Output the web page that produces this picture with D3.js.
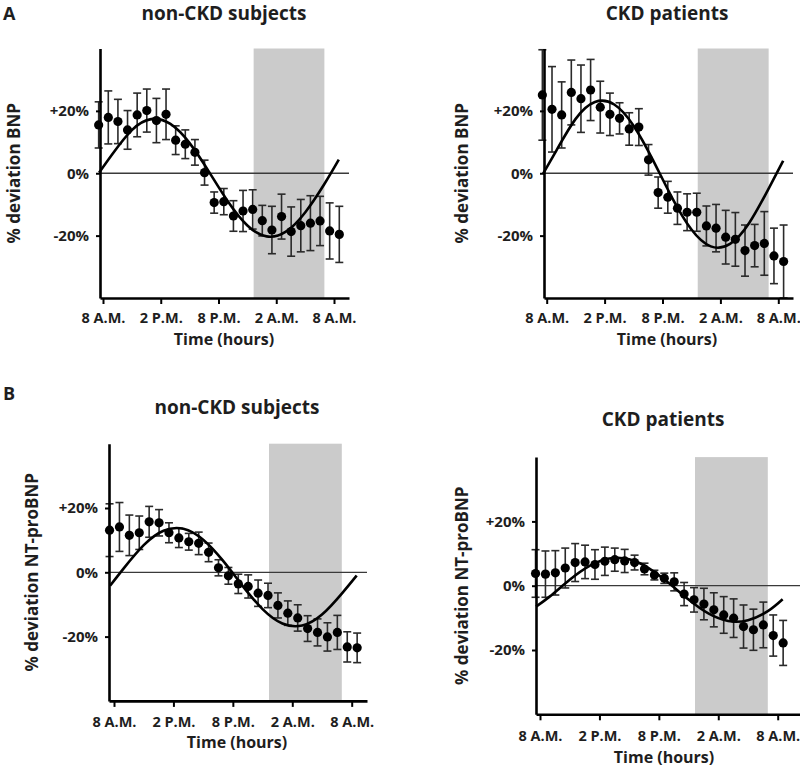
<!DOCTYPE html>
<html><head><meta charset="utf-8">
<script src="https://cdn.jsdelivr.net/npm/d3@7"></script>
<style>
body{margin:0;background:#fff}
svg{display:block}
text{font-family:"Open Sans","DejaVu Sans",sans-serif;fill:#1e1e1e}
.tick text{font-family:"Open Sans",sans-serif !important;font-weight:700;fill:#1e1e1e}
</style>
</head><body>
<svg id="c" width="800" height="772"></svg>
<script>
// ---------- data ----------
const pointHours = [-0.45,0.55,1.55,2.55,3.55,4.55,5.55,6.55,7.55,8.55,9.55,10.55,11.55,12.55,13.55,14.55,15.55,16.55,17.55,18.55,19.55,20.55,21.55,22.55,23.55,24.55];
const fitHours = [-0.4,1,3,5,7,9,11,13,15,17,19,21,23,24.5];
const xTickHours = [0,6,12,18,24];
const xTickLabels = ["8 A.M.","2 P.M.","8 P.M.","2 A.M.","8 A.M."];
const yTickValues = [-20,0,20];
const yTickLabels = ["-20%","0%","+20%"];
const nightStart = 15.65, nightEnd = 23.0;

const bnpNonCkdMean = [15.5,17.9,16.6,13.9,18.7,20.1,16.9,18.9,10.6,9.3,6.7,0.2,-9.4,-9.1,-13.7,-12.1,-11.6,-15.2,-18.2,-13.9,-18.7,-16.8,-16.0,-15.3,-18.5,-19.6];
const bnpNonCkdSem  = [7.4,8.5,7.1,6.2,7.0,6.9,7.1,8.1,4.6,4.6,4.1,4.0,3.4,4.2,4.9,6.6,6.3,4.9,7.6,7.2,7.9,8.4,8.8,7.9,9.0,9.0];
const bnpNonCkdFit  = [0.2,6.24,13.84,17.35,15.81,9.66,0.53,-9.14,-16.74,-20.25,-18.72,-12.56,-3.43,4.4];

const bnpCkdMean = [25.1,20.5,18.7,25.9,23.9,26.7,21.2,18.9,17.6,14.2,14.8,4.3,-6.2,-7.7,-11.2,-12.5,-12.5,-16.9,-17.6,-20.5,-21.2,-24.8,-23.2,-22.5,-26.5,-28.3];
const bnpCkdSem  = [14.5,13.7,10.6,10.4,10.8,9.8,8.3,6.8,5.0,5.2,5.9,4.9,5.0,5.1,5.2,5.9,6.1,6.4,7.6,8.6,8.6,8.2,6.8,10.2,8.9,11.7];
const bnpCkdFit  = [-0.3,7.28,17.44,22.85,22.05,15.26,4.30,-7.88,-18.04,-23.45,-22.65,-15.86,-4.9,4.0];

const ntNonCkdMean = [13.1,14.1,11.5,12.3,15.7,15.4,12.3,10.7,9.5,9.0,6.2,1.4,-1.1,-3.6,-4.4,-6.5,-7.2,-10.3,-12.7,-14.2,-17.5,-18.7,-20.1,-18.7,-23.2,-23.5];
const ntNonCkdSem  = [8.2,7.6,6.3,5.2,4.8,4.1,3.1,3.0,2.6,3.5,2.9,2.5,2.6,3.0,3.6,4.1,3.8,3.9,3.8,4.1,4.0,4.2,4.4,5.3,4.7,4.6];
const ntNonCkdFit  = [-4.2,1.29,8.44,12.92,13.54,10.13,3.61,-4.29,-11.44,-15.92,-16.54,-13.13,-6.61,-1.0];

const ntCkdMean = [3.8,3.6,4.0,5.5,7.2,7.4,6.6,7.6,8.1,7.7,7.2,5.2,3.3,2.3,1.2,-2.6,-4.4,-5.7,-7.5,-9.1,-10.1,-12.7,-13.7,-12.2,-15.5,-17.8];
const ntCkdSem  = [7.4,7.2,6.9,6.2,5.9,5.2,4.6,4.4,3.6,3.6,2.3,1.8,1.5,1.6,2.8,3.6,3.8,4.9,5.3,5.7,6.0,6.7,6.4,7.1,6.4,7.0];
const ntCkdFit  = [-6.5,-3.32,1.82,6.14,8.48,8.21,5.41,0.82,-4.32,-8.64,-10.98,-10.71,-7.91,-4.2];

// ---------- panels ----------
const panels = [
  {letter:"A", title:"non-CKD subjects", yLabel:"% deviation BNP", mean:bnpNonCkdMean, sem:bnpNonCkdSem, fit:bnpNonCkdFit,
   L:{axisX:100, top:48.5, bottom:298, right:349, h0:103, h24:334, titleX:224, titleY:19.5, yLabX:19.5, xTitleX:224, xTitleY:345, lblOff:15, letterY:20}},
  {letter:null, title:"CKD patients", yLabel:"% deviation BNP", mean:bnpCkdMean, sem:bnpCkdSem, fit:bnpCkdFit,
   L:{axisX:544, top:48.5, bottom:298, right:793, h0:546.7, h24:778.3, titleX:667, titleY:19.5, yLabX:467.5, xTitleX:667, xTitleY:345, lblOff:15}},
  {letter:"B", title:"non-CKD subjects", yLabel:"% deviation NT-proBNP", mean:ntNonCkdMean, sem:ntNonCkdSem, fit:ntNonCkdFit,
   L:{axisX:109, top:443.7, bottom:700.9, right:367, h0:114, h24:351.7, titleX:237, titleY:413.5, yLabX:37.5, xTitleX:237, xTitleY:748, lblOff:16, letterY:400}},
  {letter:null, title:"CKD patients", yLabel:"% deviation NT-proBNP", mean:ntCkdMean, sem:ntCkdSem, fit:ntCkdFit,
   L:{axisX:536, top:457.1, bottom:714.3, right:800, h0:540, h24:777.7, titleX:663, titleY:426, yLabX:467.5, xTitleX:664, xTitleY:762.5, lblOff:16}}
];

const svg = d3.select("#c");

panels.forEach(p => {
  const L = p.L;
  const base = d3.scaleLinear().domain([0,24]).range([L.h0, L.h24]);
  const xs = d3.scaleLinear().domain([base.invert(L.axisX), base.invert(L.right)]).range([L.axisX, L.right]);
  const ys = d3.scaleLinear().domain([-40,40]).range([L.bottom, L.top]);
  const g = svg.append("g");

  // night shading
  g.append("rect")
    .attr("x", xs(nightStart)).attr("y", ys(40))
    .attr("width", xs(nightEnd) - xs(nightStart)).attr("height", ys(-40) - ys(40))
    .attr("fill", "#cbcbcb");

  // zero line
  g.append("line")
    .attr("x1", L.axisX).attr("x2", L.right)
    .attr("y1", ys(0)).attr("y2", ys(0))
    .attr("stroke", "#3a3a3a").attr("stroke-width", 1.3);

  const pts = pointHours.map((h,i) => ({h, m:p.mean[i], s:p.sem[i]}));

  // error bars
  const eb = g.append("g").attr("stroke", "#2a2a2a").attr("stroke-width", 1.6).attr("fill", "none");
  pts.forEach(d => {
    const x = xs(d.h), y1 = ys(d.m + d.s), y2 = ys(d.m - d.s);
    eb.append("line").attr("x1", x).attr("x2", x).attr("y1", y1).attr("y2", y2);
    eb.append("line").attr("x1", x-4).attr("x2", x+4).attr("y1", y1).attr("y2", y1);
    eb.append("line").attr("x1", x-4).attr("x2", x+4).attr("y1", y2).attr("y2", y2);
  });

  // fitted curve
  const line = d3.line().x(d => xs(d[0])).y(d => ys(d[1])).curve(d3.curveNatural);
  g.append("path")
    .datum(fitHours.map((h,i) => [h, p.fit[i]]))
    .attr("d", line).attr("fill", "none")
    .attr("stroke", "#000").attr("stroke-width", 2.6);

  // dots
  g.selectAll("circle.pt").data(pts).join("circle")
    .attr("class", "pt")
    .attr("cx", d => xs(d.h)).attr("cy", d => ys(d.m)).attr("r", 4.6)
    .attr("fill", "#000");

  // axes
  const yAxis = d3.axisLeft(ys).tickValues(yTickValues)
    .tickFormat(d => yTickLabels[yTickValues.indexOf(d)])
    .tickSizeInner(4).tickSizeOuter(0).tickPadding(7);
  const ya = g.append("g").attr("transform", `translate(${L.axisX},0)`).call(yAxis)
    .attr("font-size", 15).attr("font-family", "Open Sans").attr("font-weight", 700);
  ya.select(".domain").attr("stroke", "#000").attr("stroke-width", 2.6);
  ya.selectAll(".tick line").attr("stroke", "#000").attr("stroke-width", 2);
  ya.selectAll(".tick text").attr("font-size", 15).attr("font-weight", 700);

  const xAxis = d3.axisBottom(xs).tickValues(xTickHours)
    .tickFormat(d => xTickLabels[xTickHours.indexOf(d)])
    .tickSizeInner(6).tickSizeOuter(0).tickPadding(L.lblOff - 6);
  const xa = g.append("g").attr("transform", `translate(0,${L.bottom})`).call(xAxis)
    .attr("font-size", 14.5).attr("font-family", "Open Sans").attr("font-weight", 700);
  xa.select(".domain").attr("stroke", "#000").attr("stroke-width", 2.6);
  xa.selectAll(".tick line").attr("stroke", "#000").attr("stroke-width", 2);
  xa.selectAll(".tick text").attr("font-size", 14.5).attr("font-weight", 700);

  // titles
  g.append("text").attr("x", L.titleX).attr("y", L.titleY).attr("text-anchor", "middle")
    .style("font-size", "19px").style("font-weight", "700").text(p.title);
  if (p.letter) {
    g.append("text").attr("x", 3).attr("y", L.letterY)
      .style("font-size", "18px").style("font-weight", "700").text(p.letter);
  }
  g.append("text")
    .attr("transform", `translate(${L.yLabX},${(L.top + L.bottom)/2}) rotate(-90)`)
    .attr("text-anchor", "middle")
    .style("font-size", "17px").style("font-weight", "700").text(p.yLabel);
  g.append("text").attr("x", L.xTitleX).attr("y", L.xTitleY).attr("text-anchor", "middle")
    .style("font-size", "16px").style("font-weight", "700").text("Time (hours)");
});
</script>
</body></html>
